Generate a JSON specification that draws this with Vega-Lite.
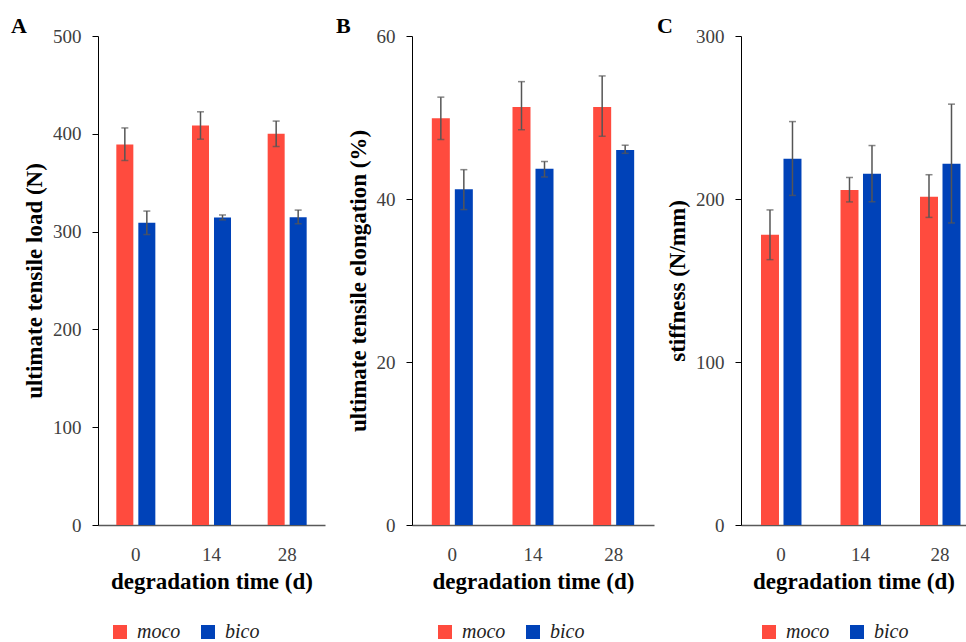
{
  "$schema": "https://vega.github.io/schema/vega-lite/v6.json",
  "padding": {"left": 11, "top": 15, "right": 0, "bottom": 0},
  "bounds": "flush",
  "spacing": 87,
  "config": {
    "font": "Liberation Serif",
    "view": {"stroke": null},
    "axisY": {"domainColor": "#000000", "domainWidth": 1, "tickColor": "#000000", "tickSize": 6, "labelPadding": 11, "labelFontSize": 19, "labelColor": "#404040", "titleFontSize": 23, "titleFontWeight": "bold", "titleColor": "#000000", "titlePadding": 6, "grid": false},
    "axisX": {"domainColor": "#595959", "domainWidth": 1.6, "ticks": false, "tickSize": 0, "labelPadding": 20, "labelFontSize": 19, "labelColor": "#404040", "labelAngle": 0, "titleFontSize": 23, "titleFontWeight": "bold", "titleColor": "#000000", "titlePadding": 6, "grid": false},
    "legend": {"title": null, "orient": "none", "direction": "horizontal", "symbolType": "square", "symbolSize": 196, "symbolStrokeWidth": 0, "labelFontSize": 20, "labelFontStyle": "italic", "labelColor": "#222222", "labelOffset": 7, "columnPadding": 17},
    "title": {"anchor": "start", "frame": "group", "fontSize": 22, "fontWeight": "bold", "color": "#000000", "baseline": "alphabetic", "offset": -11}
  },
  "datasets": {
    "A": [
      {"day": "0", "group": "moco", "mean": 389, "lo": 372.7, "hi": 406},
      {"day": "0", "group": "bico", "mean": 309, "lo": 297, "hi": 321},
      {"day": "14", "group": "moco", "mean": 408.5, "lo": 394.5, "hi": 422.5},
      {"day": "14", "group": "bico", "mean": 314.5, "lo": 312, "hi": 317},
      {"day": "28", "group": "moco", "mean": 400, "lo": 387, "hi": 413},
      {"day": "28", "group": "bico", "mean": 314.8, "lo": 308, "hi": 322}
    ],
    "B": [
      {"day": "0", "group": "moco", "mean": 49.9, "lo": 47.3, "hi": 52.5},
      {"day": "0", "group": "bico", "mean": 41.2, "lo": 38.7, "hi": 43.6},
      {"day": "14", "group": "moco", "mean": 51.3, "lo": 48.5, "hi": 54.4},
      {"day": "14", "group": "bico", "mean": 43.7, "lo": 42.7, "hi": 44.6},
      {"day": "28", "group": "moco", "mean": 51.3, "lo": 47.7, "hi": 55.1},
      {"day": "28", "group": "bico", "mean": 46.0, "lo": 45.6, "hi": 46.6}
    ],
    "C": [
      {"day": "0", "group": "moco", "mean": 178, "lo": 162.8, "hi": 193.3},
      {"day": "0", "group": "bico", "mean": 224.7, "lo": 202.2, "hi": 247.5},
      {"day": "14", "group": "moco", "mean": 205.5, "lo": 198.2, "hi": 213.2},
      {"day": "14", "group": "bico", "mean": 215.5, "lo": 198.3, "hi": 232.8},
      {"day": "28", "group": "moco", "mean": 201.4, "lo": 188.7, "hi": 214.9},
      {"day": "28", "group": "bico", "mean": 221.6, "lo": 185.3, "hi": 258.2}
    ]
  },
  "hconcat": [
    {
      "width": 227, "height": 489,
      "title": {"text": "A", "dx": -87},
      "data": {"name": "A"},
      "encoding": {
        "x": {"field": "day", "type": "ordinal", "sort": ["0", "14", "28"], "scale": {"paddingInner": 0, "paddingOuter": 0}, "axis": {"title": "degradation time (d)"}},
        "xOffset": {"field": "group", "sort": ["moco", "bico"], "scale": {"paddingInner": 0.227, "paddingOuter": 0.833}}
      },
      "layer": [
        {"mark": {"type": "bar"}, "encoding": {
          "y": {"field": "mean", "type": "quantitative", "scale": {"domain": [0, 500]}, "axis": {"values": [0, 100, 200, 300, 400, 500], "title": "ultimate tensile load (N)"}},
          "color": {"field": "group", "type": "nominal", "scale": {"domain": ["moco", "bico"], "range": ["#FF4B3E", "#0042B8"]}, "legend": {"legendX": 12, "legendY": 586}}
        }},
        {"mark": {"type": "rule", "color": "#555555", "strokeWidth": 1.5}, "encoding": {
          "y": {"field": "lo", "type": "quantitative", "axis": {"values": [0, 100, 200, 300, 400, 500], "title": "ultimate tensile load (N)"}}, "y2": {"field": "hi"}}},
        {"mark": {"type": "tick", "color": "#555555", "size": 7, "thickness": 1.5}, "encoding": {
          "y": {"field": "lo", "type": "quantitative", "axis": {"values": [0, 100, 200, 300, 400, 500], "title": "ultimate tensile load (N)"}}}},
        {"mark": {"type": "tick", "color": "#555555", "size": 7, "thickness": 1.5}, "encoding": {
          "y": {"field": "hi", "type": "quantitative", "axis": {"values": [0, 100, 200, 300, 400, 500], "title": "ultimate tensile load (N)"}}}}
      ]
    },
    {
      "width": 242, "height": 489,
      "title": {"text": "B", "dx": -76},
      "data": {"name": "B"},
      "encoding": {
        "x": {"field": "day", "type": "ordinal", "sort": ["0", "14", "28"], "scale": {"paddingInner": 0, "paddingOuter": 0}, "axis": {"title": "degradation time (d)"}},
        "xOffset": {"field": "group", "sort": ["moco", "bico"], "scale": {"paddingInner": 0.217, "paddingOuter": 0.862}}
      },
      "layer": [
        {"mark": {"type": "bar"}, "encoding": {
          "y": {"field": "mean", "type": "quantitative", "scale": {"domain": [0, 60]}, "axis": {"values": [0, 20, 40, 60], "title": "ultimate tensile elongation (%)"}},
          "color": {"field": "group", "type": "nominal", "scale": {"domain": ["moco", "bico"], "range": ["#FF4B3E", "#0042B8"]}, "legend": {"legendX": 23, "legendY": 586}}
        }},
        {"mark": {"type": "rule", "color": "#555555", "strokeWidth": 1.5}, "encoding": {
          "y": {"field": "lo", "type": "quantitative", "axis": {"values": [0, 20, 40, 60], "title": "ultimate tensile elongation (%)"}}, "y2": {"field": "hi"}}},
        {"mark": {"type": "tick", "color": "#555555", "size": 7, "thickness": 1.5}, "encoding": {
          "y": {"field": "lo", "type": "quantitative", "axis": {"values": [0, 20, 40, 60], "title": "ultimate tensile elongation (%)"}}}},
        {"mark": {"type": "tick", "color": "#555555", "size": 7, "thickness": 1.5}, "encoding": {
          "y": {"field": "hi", "type": "quantitative", "axis": {"values": [0, 20, 40, 60], "title": "ultimate tensile elongation (%)"}}}}
      ]
    },
    {
      "width": 225, "height": 489,
      "title": {"text": "C", "dx": -84},
      "data": {"name": "C"},
      "encoding": {
        "x": {"field": "day", "type": "ordinal", "sort": ["0", "14", "28"], "scale": {"paddingInner": 0.17, "paddingOuter": 0, "align": 0}, "axis": {"title": "degradation time (d)", "labelOffset": 7}},
        "xOffset": {"field": "group", "sort": ["moco", "bico"], "scale": {"paddingInner": 0.2, "paddingOuter": 0.567, "align": 0.784}}
      },
      "layer": [
        {"mark": {"type": "bar"}, "encoding": {
          "y": {"field": "mean", "type": "quantitative", "scale": {"domain": [0, 300]}, "axis": {"values": [0, 100, 200, 300], "title": "stiffness (N/mm)"}},
          "color": {"field": "group", "type": "nominal", "scale": {"domain": ["moco", "bico"], "range": ["#FF4B3E", "#0042B8"]}, "legend": {"legendX": 18, "legendY": 586}}
        }},
        {"mark": {"type": "rule", "color": "#555555", "strokeWidth": 1.5}, "encoding": {
          "y": {"field": "lo", "type": "quantitative", "axis": {"values": [0, 100, 200, 300], "title": "stiffness (N/mm)"}}, "y2": {"field": "hi"}}},
        {"mark": {"type": "tick", "color": "#555555", "size": 7, "thickness": 1.5}, "encoding": {
          "y": {"field": "lo", "type": "quantitative", "axis": {"values": [0, 100, 200, 300], "title": "stiffness (N/mm)"}}}},
        {"mark": {"type": "tick", "color": "#555555", "size": 7, "thickness": 1.5}, "encoding": {
          "y": {"field": "hi", "type": "quantitative", "axis": {"values": [0, 100, 200, 300], "title": "stiffness (N/mm)"}}}}
      ]
    }
  ],
  "resolve": {"scale": {"color": "independent", "y": "independent", "x": "independent", "xOffset": "independent"}}
}
